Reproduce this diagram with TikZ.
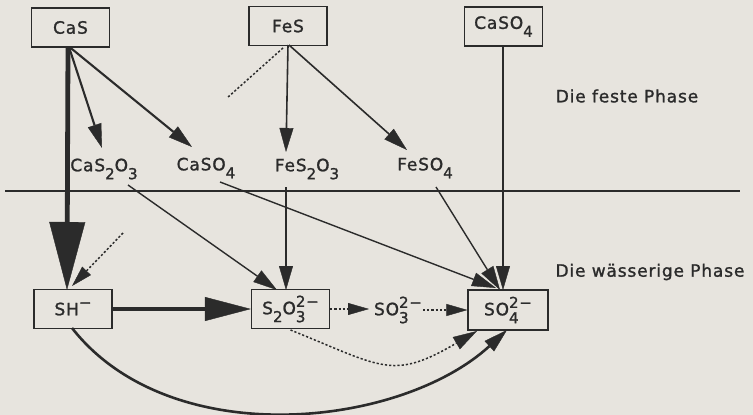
\documentclass[tikz,border=0pt]{standalone}
\usepackage{fontspec}
\setmainfont{DejaVu Sans}[LetterSpace=5, FakeBold=1.3]
\usetikzlibrary{arrows.meta,calc}

\definecolor{paper}{HTML}{E7E4DE}
\definecolor{ink}{HTML}{2B2B2B}

% lowered / raised indices for the chemical formulas
\newcommand\lo[1]{\raisebox{-0.85ex}{\fontsize{15}{16}\selectfont #1}}
\newcommand\hi[1]{\raisebox{0.8ex}{\fontsize{15}{16}\selectfont #1}}
\newcommand\lohi[2]{\makebox[0pt][l]{\lo{#1}}\hi{#2}}

\begin{document}
\begin{tikzpicture}[x=1pt,y=-1pt,
  font=\fontsize{17}{20}\selectfont,
  box/.style={draw=ink, line width=1.2pt, minimum width=78pt, minimum height=39pt,
              inner sep=0pt, text=ink},
  lbl/.style={inner sep=0pt, text=ink},
  flow/.style={draw=ink, line width=1.6pt},
  dotline/.style={draw=ink, line width=1.5pt, dash pattern=on 2.2pt off 2pt},
  bighead/.style={-{Triangle[length=68pt,width=36pt,line width=0.4pt]}},
  midhead/.style={-{Triangle[length=46pt,width=24pt,line width=0.4pt]}},
  head/.style={-{Triangle[length=24pt,width=14pt,line width=0.4pt]}},
  smallhead/.style={-{Triangle[length=21pt,width=12pt,line width=0.4pt]}},
]
\fill[paper] (0,0) rectangle (753,415);
\useasboundingbox (0,0) rectangle (753,415);

% solid phase
\node[box] (cas)    at (70.5,27.5) {CaS};
\node[box] (fes)    at (288,26)    {FeS};
\node[box] (caso4s) at (503.5,26.5) {CaSO\lo{4}};

\node[lbl] (cas2o3) at (104,169) {CaS\lo{2}O\lo{3}};
\node[lbl] (caso4)  at (206,168) {CaSO\lo{4}};
\node[lbl] (fes2o3) at (307,169) {FeS\lo{2}O\lo{3}};
\node[lbl] (feso4)  at (425,168) {FeSO\lo{4}};

\node[lbl] (solid)  at (627,96)  {Die feste Phase};
\node[lbl] (liquid) at (650,272) {Die wässerige Phase};

% phase boundary
\coordinate (divL) at (5,191);
\coordinate (divR) at (740,191);
\draw[ink, line width=1.4pt] (divL) -- (divR);

% aqueous phase
\node[box] (sh)   at (73,309)    {SH\hi{−}};
\node[box] (s2o3) at (290.5,309) {S\lo{2}O\lohi{3}{2−}};
\node[lbl] (so3)  at (398,310)   {SO\lohi{3}{2−}};
\node[box, minimum width=80pt, minimum height=40pt] (so4) at (508,310) {SO\lohi{4}{2−}};

% loose ends of the dotted branches
\coordinate (fesloose) at (227,98);
\coordinate (shloose)  at (123,233);

% reactions out of CaS
\draw[flow, line width=4.8pt, bighead] ($(cas)+(-2.5,19.5)$) -- ($(sh)+(-6,-19)$);
\draw[flow, line width=2.1pt, head] ($(cas)+(-1.5,19.5)$) -- ($(cas2o3)+(-2,-21)$);
\draw[flow, line width=2.1pt, head] ($(cas)+(-1,19.5)$) -- ($(caso4)+(-14,-21)$);

% reactions out of FeS
\draw[dotline] ($(fes)+(-5,22)$) -- (fesloose);
\draw[flow, head] ($(fes)+(0,19)$) -- ($(fes2o3)+(-21,-17)$);
\draw[flow, head] ($(fes)+(1,19)$) -- ($(feso4)+(-18,-18)$);

% solid products into the solution
\draw[flow, line width=1.4pt, head] ($(cas2o3)+(24,16)$) -- ($(s2o3)+(-13.5,-19)$);
\draw[flow, line width=1.4pt, head] ($(caso4)+(14,14)$) -- ($(so4)+(-12,-22)$);
\draw[flow, line width=1.4pt, head] ($(fes2o3)+(-21,18)$) -- ($(s2o3)+(-4.5,-19)$);
\draw[flow, line width=1.4pt, head] ($(feso4)+(11,19)$) -- ($(so4)+(-8,-20)$);
\draw[flow, line width=1.4pt, head] ($(caso4s)+(-0.5,19.5)$) -- ($(so4)+(-5,-20)$);

% reactions in solution
\draw[dotline, smallhead] (shloose) -- ($(sh)+(-1,-23)$);
\draw[flow, line width=3.2pt, midhead] (sh.east) -- (s2o3.west);
\draw[dotline, smallhead] (s2o3.east) -- ($(so3)+(-29,-1)$);
\draw[dotline, smallhead] ($(so3)+(25,0)$) -- (so4.west);
\draw[dotline, head] ($(s2o3)+(0,21)$)
  .. controls +(92,37) and +(-85,50) .. ($(so4)+(-31,21)$);
\draw[flow, line width=2.6pt, head] ($(sh)+(-1,19)$)
  .. controls +(98,125) and +(-107,98) .. ($(so4)+(-1,20)$);
\end{tikzpicture}
\end{document}
